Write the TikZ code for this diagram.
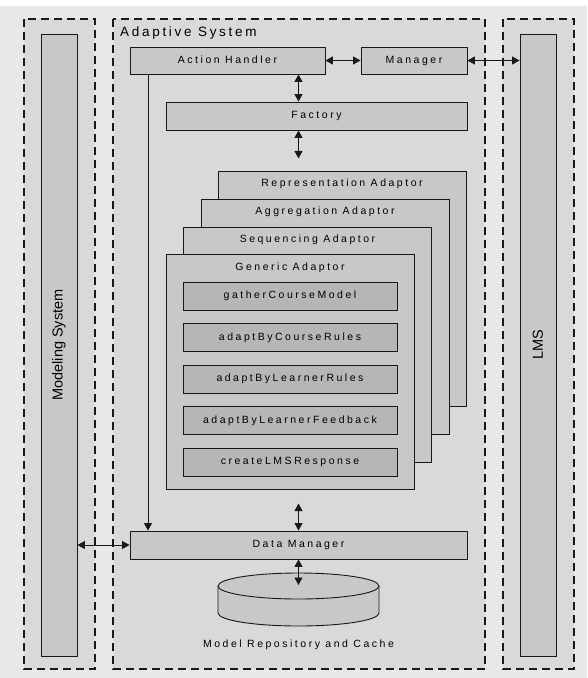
\documentclass[tikz,border=0pt]{standalone}
\usepackage{fontspec}
\setmainfont{Liberation Sans}
\newfontfamily\spacedfont[LetterSpace=24]{Liberation Sans}
\newfontfamily\titlefont[LetterSpace=20]{Liberation Sans}
\usetikzlibrary{arrows.meta,positioning}
\definecolor{asbg}{RGB}{232,232,232}
\definecolor{aspanel}{RGB}{217,217,217}
\definecolor{asbox}{RGB}{200,200,200}
\definecolor{asmethod}{RGB}{182,182,182}
\definecolor{asline}{RGB}{25,25,25}

\begin{document}
\begin{tikzpicture}[x=1pt, y=-1pt, >={Triangle[length=7.5pt,width=8pt]},
  panel/.style={draw=asline, fill=aspanel, line width=1.1pt, dash pattern=on 8pt off 5pt},
  box/.style={draw=asline, fill=asbox, line width=0.9pt, inner sep=0pt,
    text height=7.5pt, text depth=2.2pt, font=\spacedfont\fontsize{10.5}{12}\selectfont},
  method/.style={box, fill=asmethod, minimum width=214pt, minimum height=28pt},
  adaptor/.style={box, minimum width=248pt, minimum height=235pt},
  lbl/.style={inner sep=0pt, text height=7.5pt, text depth=2.2pt,
    font=\spacedfont\fontsize{10.5}{12}\selectfont},
  sysbar/.style={draw=asline, fill=asbox, line width=0.9pt, minimum width=36pt,
    minimum height=622pt, inner sep=0pt},
  syslbl/.style={rotate=90, font=\fontsize{14.5}{16}\selectfont},
  link/.style={line width=0.9pt, asline}]
  \useasboundingbox (0,0) rectangle (587,678);
  \fill[asbg] (0,6) rectangle (587,678);
  % panels
  \draw[panel] (24,19) rectangle (95,669);
  \draw[panel] (113,19) rectangle (485,669);
  \draw[panel] (503,19) rectangle (574,669);
  \node[inner sep=0pt, anchor=west, font=\titlefont\fontsize{13.5}{15}\selectfont] (astitle) at (120,33) {Adaptive System};
  % outer systems
  \node[sysbar] (modeling) at (59,345) {};
  \node[syslbl] at (modeling) {Modeling System};
  \node[sysbar] (lms) at (538,345) {};
  \node[syslbl] at (lms) {LMS};
  % top row
  \node[box, minimum width=195pt, minimum height=27pt] (actionh) at (227.5,60.5) {Action Handler};
  \node[box, minimum width=106pt, minimum height=27pt] (manager) at (414,60.5) {Manager};
  \node[box, minimum width=301pt, minimum height=28pt] (factory) at (316.5,116) {Factory};
  % adaptor stack
  \node[adaptor] (repr) at (342,289) {};
  \node[lbl] at ([yshift=-12.5pt]repr.north) {Representation Adaptor};
  \node[adaptor] (aggr) at (325,316.5) {};
  \node[lbl] at ([yshift=-13pt]aggr.north) {Aggregation Adaptor};
  \node[adaptor] (seq) at (307.5,344.5) {};
  \node[lbl] at ([yshift=-13pt]seq.north) {Sequencing Adaptor};
  \node[adaptor] (generic) at (290,371.5) {};
  \node[lbl] at ([yshift=-14pt]generic.north) {Generic Adaptor};
  \node[method] (gather) at (290,296) {gatherCourseModel};
  \node[method] (bycourse) at (290,337.5) {adaptByCourseRules};
  \node[method] (bylearner) at (290,379) {adaptByLearnerRules};
  \node[method] (byfeedback) at (290,420.5) {adaptByLearnerFeedback};
  \node[method] (response) at (290,462) {createLMSResponse};
  % data layer
  \node[box, minimum width=337pt, minimum height=28pt] (datamgr) at (298.5,545) {Data Manager};
  \filldraw[link, fill=asbox] (218,586) -- (218,613)
    arc[start angle=180, end angle=360, x radius=80.5pt, y radius=13pt] -- (379,586);
  \filldraw[link, fill=asbox] (298.5,586) ellipse[x radius=80.5pt, y radius=13pt];
  \coordinate (repotop) at (298.5,585);
  \node[lbl] (repolbl) at (298.5,645) {Model Repository and Cache};
  % connectors
  \coordinate (ahfoot) at (148,74);
  \draw[link,->] (ahfoot) -- (ahfoot |- datamgr.north);
  \draw[link,<->] (actionh.east) -- (manager.west);
  \draw[link,<->] (manager.east) -- (manager.east -| lms.west);
  \draw[link,<->] (modeling.east |- datamgr) -- (datamgr.west);
  \draw[link,<->] (actionh.south -| datamgr) -- (factory.north -| datamgr);
  \draw[link,<->] (factory.south -| datamgr) -- ++(0,28);
  \draw[link,<->] (datamgr.north) -- ++(0,-27);
  \draw[link,<->] (datamgr.south) -- (repotop);
\end{tikzpicture}
\end{document}
